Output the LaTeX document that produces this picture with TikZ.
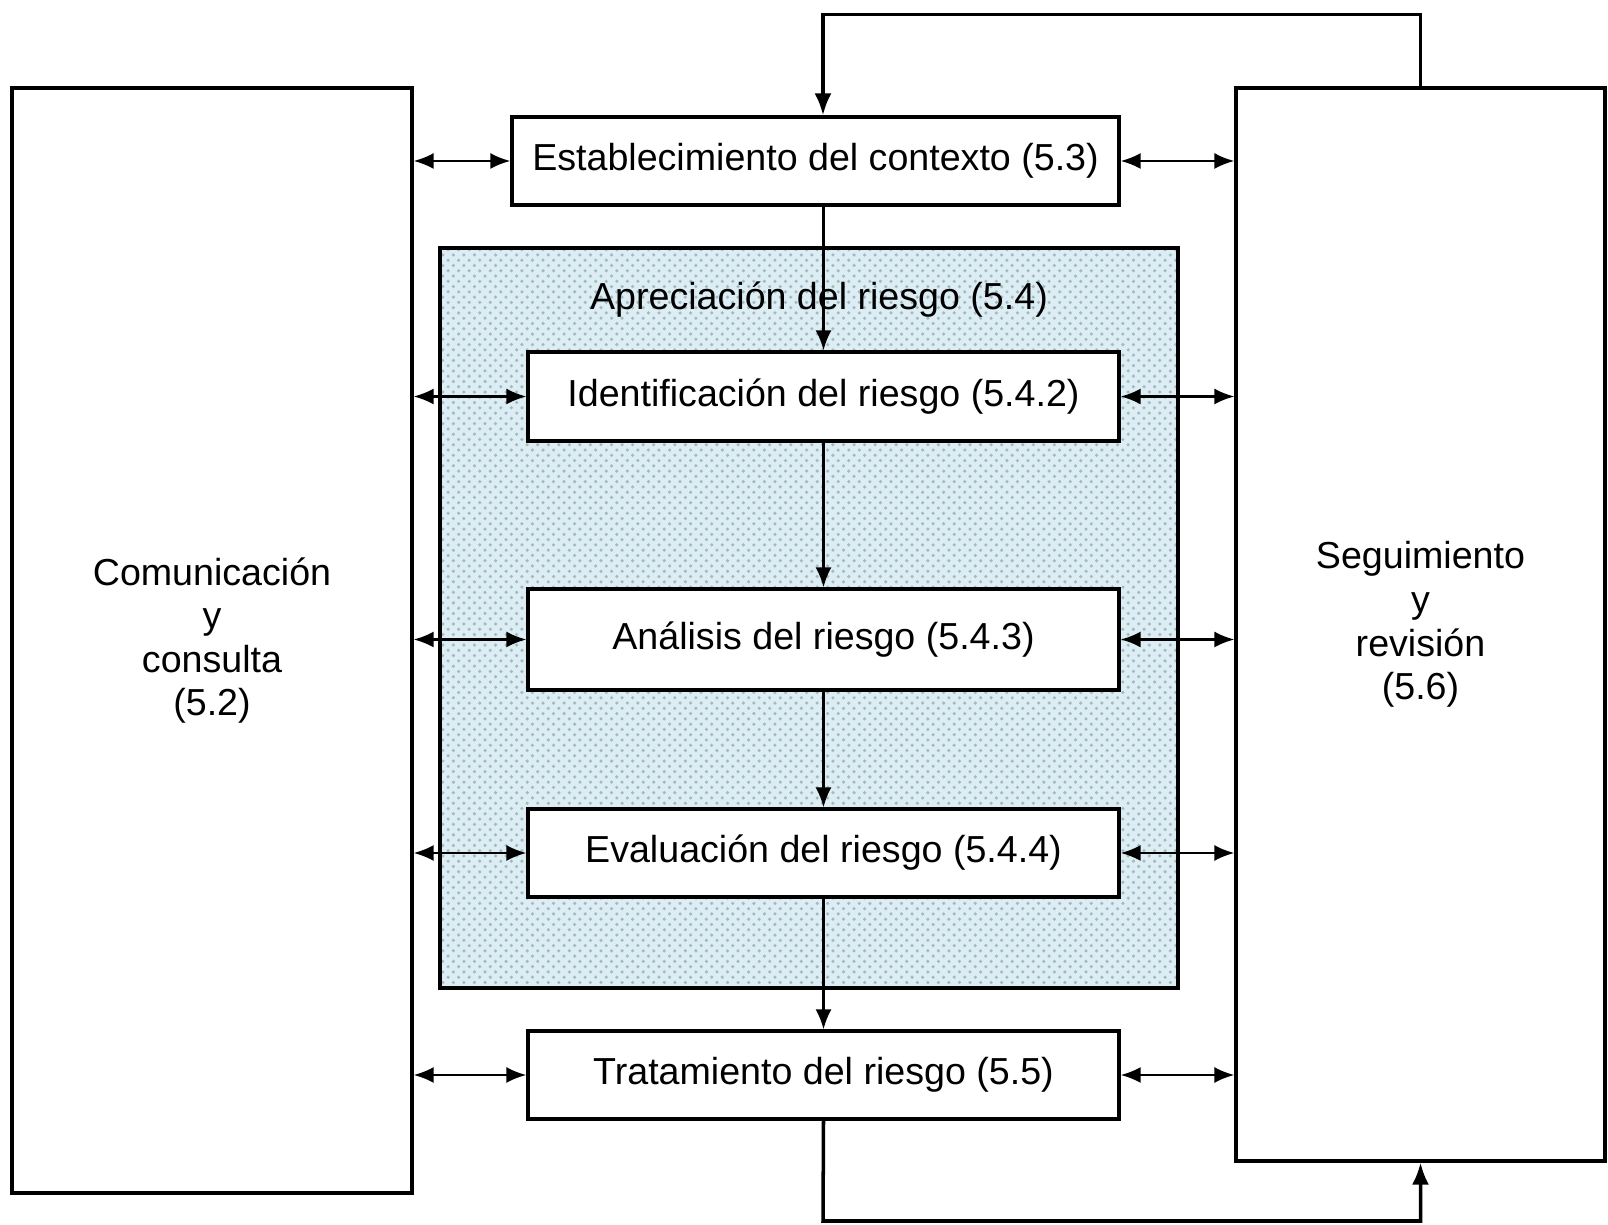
\documentclass[tikz,border=0pt]{standalone}
\usepackage{fontspec}
\setmainfont{Liberation Sans}
\usepackage{tikz}
\usetikzlibrary{arrows.meta, patterns}
\usepackage{xcolor}

\definecolor{shade}{RGB}{220,237,243}
\definecolor{dots}{RGB}{165,185,192}

\begin{document}
\begin{tikzpicture}[
    box/.style={draw, line width=0.9pt, fill=white, inner sep=0pt, align=center,
                font=\fontsize{10.7}{12.4}\selectfont},
    link/.style={line width=0.7pt, {Latex[length=2mm,width=1.6mm]}-{Latex[length=2mm,width=1.6mm]}},
    flow/.style={line width=0.7pt, -{Latex[length=2mm,width=1.6mm]}},
    loop/.style={line width=1pt, -{Latex[length=2.2mm,width=1.7mm]}}
]

    \useasboundingbox (0,0) rectangle (16.08,-12.25);

    % The shaded region for the risk appraisal
    \path[draw, line width=0.9pt, preaction={fill=shade}, pattern=crosshatch dots, pattern color=dots]
        (4.40,-2.48) rectangle (11.78,-9.88);
    \node[font=\fontsize{10.7}{12.4}\selectfont] (apre) at (8.19,-3.00) {Apreciación del riesgo (5.4)};

    % The side boxes
    \node[box, minimum width=4.00cm, minimum height=11.05cm] (comm) at (2.12,-6.405)
        {Comunicación\\y\\consulta\\(5.2)};
    \node[box, minimum width=3.69cm, minimum height=10.73cm] (segui) at (14.205,-6.245)
        {Seguimiento\\y\\revisión\\(5.6)};

    % The steps in the middle
    \node[box, minimum width=6.07cm, minimum height=0.88cm] (estab) at (8.155,-1.61)  {Establecimiento del contexto (5.3)};
    \node[box, minimum width=5.91cm, minimum height=0.89cm] (ident) at (8.235,-3.965) {Identificación del riesgo (5.4.2)};
    \node[box, minimum width=5.91cm, minimum height=1.01cm] (anal)  at (8.235,-6.395) {Análisis del riesgo (5.4.3)};
    \node[box, minimum width=5.91cm, minimum height=0.88cm] (eval)  at (8.235,-8.53)  {Evaluación del riesgo (5.4.4)};
    \node[box, minimum width=5.91cm, minimum height=0.88cm] (trat)  at (8.235,-10.75) {Tratamiento del riesgo (5.5)};

    % Coordinates for the loops
    \coordinate (top) at (8.23,-0.144);
    \coordinate (bot) at (8.23,-12.21);

    % Draw the flow down the middle
    \draw[flow] (ident.north |- estab.south) -- (ident.north);
    \draw[flow] (ident.south) -- (anal.north);
    \draw[flow] (anal.south) -- (eval.north);
    \draw[flow] (eval.south) -- (trat.north);

    % Draw the two loops
    \draw[loop] (segui.north) |- (top) -- (top |- estab.north);
    \draw[loop] (trat.south) -- (bot) -| (segui.south);

    % Draw the links to the left box
    \draw[link] (comm.east |- estab.west) -- (estab.west);
    \draw[link] (comm.east |- ident.west) -- (ident.west);
    \draw[link] (comm.east |- anal.west)  -- (anal.west);
    \draw[link] (comm.east |- eval.west)  -- (eval.west);
    \draw[link] (comm.east |- trat.west)  -- (trat.west);

    % Draw the links to the right box
    \draw[link] (estab.east) -- (segui.west |- estab.east);
    \draw[link] (ident.east) -- (segui.west |- ident.east);
    \draw[link] (anal.east)  -- (segui.west |- anal.east);
    \draw[link] (eval.east)  -- (segui.west |- eval.east);
    \draw[link] (trat.east)  -- (segui.west |- trat.east);

\end{tikzpicture}
\end{document}
